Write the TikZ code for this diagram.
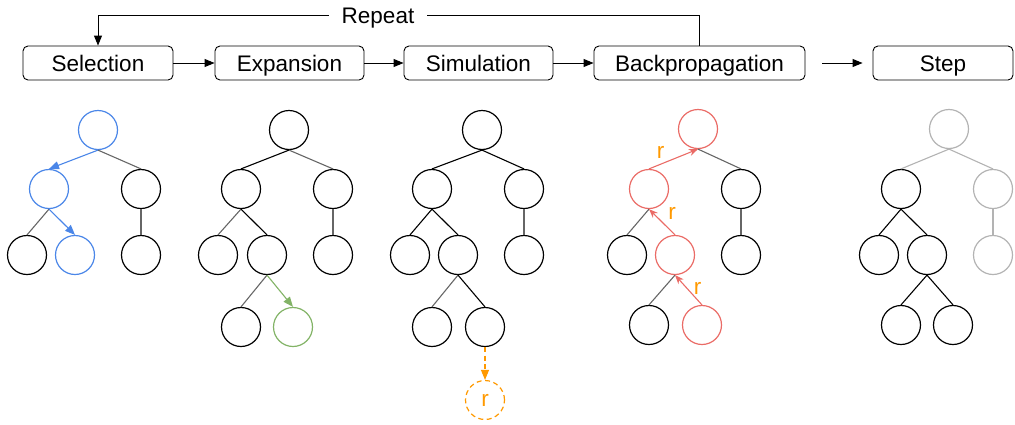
\documentclass[tikz,border=0pt]{standalone}
\usepackage{fontspec}
\setmainfont{Liberation Sans}
\usetikzlibrary{arrows.meta}
\definecolor{selblue}{HTML}{4A86E8}
\definecolor{expgreen}{HTML}{82B366}
\definecolor{bpred}{HTML}{EA6B66}
\definecolor{simorange}{HTML}{FF9900}
\definecolor{fadegray}{HTML}{B3B3B3}
\definecolor{edgegray}{HTML}{666666}
\tikzset{
	stage/.style={draw, rounded corners=5pt, minimum height=34pt, inner sep=0pt, text height=17pt, text depth=0pt, line width=0.9pt},
	tnode/.style={circle, draw, minimum size=39pt, inner sep=0pt, line width=1.2pt},
	blk/.style={line width=1.1pt},
	gry/.style={line width=1.1pt, color=edgegray},
	dsh/.style={dash pattern=on 5pt off 3.5pt},
	tip/.style={-{Triangle[length=10pt,width=8pt]}},
	rtip/.style={-{Stealth[length=9pt,width=7pt]}},
	rlab/.style={text=simorange, inner sep=1pt}
}

\begin{document}
\begin{tikzpicture}[x=1pt, y=-1pt, node font=\fontsize{22.5}{27}\selectfont]
			%%%%% START %%%%%
			\useasboundingbox (0, 0) rectangle (1015, 424);
			
			\node[stage, minimum width=150pt] (sel) at (98, 63) {Selection};
			\node[stage, minimum width=149pt] (exp) at (289.5, 63) {Expansion};
			\node[stage, minimum width=149pt] (sim) at (478.5, 63) {Simulation};
			\node[stage, minimum width=211pt] (bp) at (699.5, 63) {Backpropagation};
			\node[stage, minimum width=140pt] (stp) at (943, 63) {Step};
			
			\draw[blk, line width=0.9pt, tip] (sel) -- (exp);
			\draw[blk, line width=0.9pt, tip] (exp) -- (sim);
			\draw[blk, line width=0.9pt, tip] (sim) -- (bp);
			\draw[blk, line width=0.9pt, tip, shorten <=17pt, shorten >=10pt] (bp) -- (stp);
			
			\node[inner xsep=13pt, inner ysep=0pt, text height=16pt, text depth=0pt] (rep) at (378, 15) {Repeat};
			\draw[blk, line width=0.9pt] (bp.north) |- (rep.east);
			\draw[blk, line width=0.9pt, tip] (rep.west) -| (sel.north);
			
			%%%%% SELECTION %%%%%
			\node[tnode, selblue] (a1) at (98, 130) {};
			\node[tnode, selblue] (a2) at (49, 189) {};
			\node[tnode] (a3) at (141, 189) {};
			\node[tnode] (a4) at (27, 255) {};
			\node[tnode, selblue] (a5) at (75, 255) {};
			\node[tnode] (a6) at (141, 255) {};
			\draw[blk, selblue, tip] (a1.south) -- (a2.north);
			\draw[gry] (a1.south) -- (a3.north);
			\draw[gry] (a2.south) -- (a4.north);
			\draw[blk, selblue, tip] (a2.south) -- (a5.north);
			\draw[gry] (a3.south) -- (a6.north);
			
			%%%%% EXPANSION %%%%%
			\node[tnode] (b1) at (289, 130) {};
			\node[tnode] (b2) at (241, 189) {};
			\node[tnode] (b3) at (333, 189) {};
			\node[tnode] (b4) at (218, 255) {};
			\node[tnode] (b5) at (267, 255) {};
			\node[tnode] (b6) at (333, 255) {};
			\node[tnode] (b7) at (241, 327) {};
			\node[tnode, expgreen] (b8) at (293, 327) {};
			\draw[blk] (b1.south) -- (b2.north);
			\draw[gry] (b1.south) -- (b3.north);
			\draw[gry] (b2.south) -- (b4.north);
			\draw[blk] (b2.south) -- (b5.north);
			\draw[gry] (b3.south) -- (b6.north);
			\draw[gry] (b5.south) -- (b7.north);
			\draw[blk, expgreen, tip] (b5.south) -- (b8.north);
			
			%%%%% SIMULATION %%%%%
			\node[tnode] (c1) at (482, 130) {};
			\node[tnode] (c2) at (432, 189) {};
			\node[tnode] (c3) at (524, 189) {};
			\node[tnode] (c4) at (410, 255) {};
			\node[tnode] (c5) at (458, 255) {};
			\node[tnode] (c6) at (524, 255) {};
			\node[tnode] (c7) at (432, 327) {};
			\node[tnode] (c8) at (485, 327) {};
			\node[tnode, simorange, dsh] (c9) at (485, 400) {r};
			\draw[blk] (c1.south) -- (c2.north);
			\draw[blk] (c1.south) -- (c3.north);
			\draw[blk] (c2.south) -- (c4.north);
			\draw[blk] (c2.south) -- (c5.north);
			\draw[gry] (c3.south) -- (c6.north);
			\draw[gry] (c5.south) -- (c7.north);
			\draw[blk] (c5.south) -- (c8.north);
			\draw[blk, simorange, dsh, tip] (c8.south) -- (c9.north);
			
			%%%%% BACKPROPAGATION %%%%%
			\node[tnode, bpred] (d1) at (698, 129) {};
			\node[tnode, bpred] (d2) at (649, 189) {};
			\node[tnode] (d3) at (741, 189) {};
			\node[tnode] (d4) at (627, 255) {};
			\node[tnode, bpred] (d5) at (675, 255) {};
			\node[tnode] (d6) at (741, 255) {};
			\node[tnode] (d7) at (649, 325) {};
			\node[tnode, bpred] (d8) at (702, 325) {};
			\draw[blk, bpred, rtip] (d2.north) -- (d1.south) node[rlab, midway, xshift=-13pt, yshift=7pt] (r1) {r};
			\draw[gry] (d1.south) -- (d3.north);
			\draw[gry] (d2.south) -- (d4.north);
			\draw[blk, bpred, rtip] (d5.north) -- (d2.south) node[rlab, midway, xshift=10pt, yshift=9pt] (r2) {r};
			\draw[gry] (d3.south) -- (d6.north);
			\draw[gry] (d5.south) -- (d7.north);
			\draw[blk, bpred, rtip] (d8.north) -- (d5.south) node[rlab, midway, xshift=9pt, yshift=2pt] (r3) {r};
			
			%%%%% STEP %%%%%
			\node[tnode, fadegray] (e1) at (949, 129) {};
			\node[tnode] (e2) at (901, 189) {};
			\node[tnode, fadegray] (e3) at (993, 189) {};
			\node[tnode] (e4) at (879, 255) {};
			\node[tnode] (e5) at (927, 255) {};
			\node[tnode, fadegray] (e6) at (993, 255) {};
			\node[tnode] (e7) at (901, 325) {};
			\node[tnode] (e8) at (953, 325) {};
			\draw[blk, fadegray] (e1.south) -- (e2.north);
			\draw[blk, fadegray] (e1.south) -- (e3.north);
			\draw[blk] (e2.south) -- (e4.north);
			\draw[blk] (e2.south) -- (e5.north);
			\draw[blk, fadegray] (e3.south) -- (e6.north);
			\draw[blk] (e5.south) -- (e7.north);
			\draw[blk] (e5.south) -- (e8.north);
			
			%%%%% END %%%%%
\end{tikzpicture}
\end{document}
